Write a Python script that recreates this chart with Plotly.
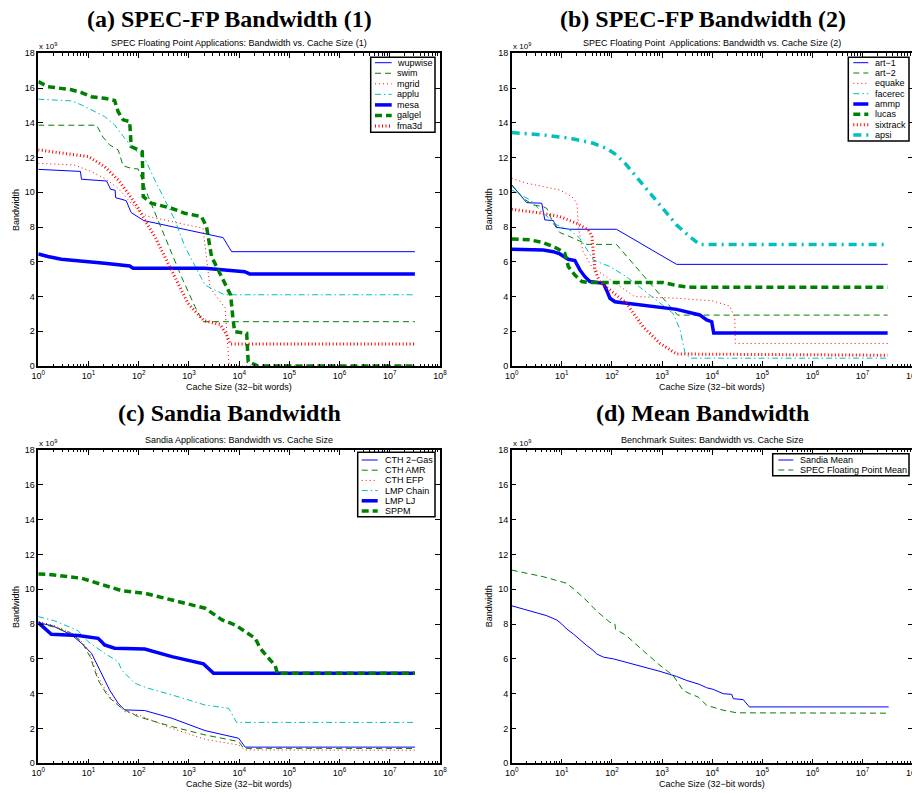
import plotly.graph_objects as go

# ---------------- DATA (x read as log10 of cache size in 32-bit words, y in 1e9) ----------------
# Panel (a) SPEC-FP (1)
A_NAMES = ["wupwise", "swim", "mgrid", "applu", "mesa", "galgel", "fma3d"]
WUPWISE_LX = [0, 0.84, 0.86, 1.36, 1.44, 1.53, 1.54, 1.75, 1.85, 2.1, 3.68, 3.85, 7.5]
WUPWISE_Y = [11.32, 11.2, 10.75, 10.65, 10.17, 10.12, 9.69, 9.52, 8.83, 8.37, 7.39, 6.58, 6.58]
SWIM_LX = [0, 1.16, 1.29, 1.42, 1.59, 1.69, 1.85, 1.99, 2.19, 2.52, 2.85, 3.12, 3.28, 7.5]
SWIM_Y = [13.86, 13.86, 13.17, 12.73, 12.44, 11.52, 11.38, 11.34, 9.75, 7.45, 5.14, 3.42, 2.55, 2.55]
MGRID_LX = [0, 0.72, 1.06, 1.32, 1.59, 1.85, 2.05, 2.2, 3.28, 3.42, 3.72, 3.8, 7.5]
MGRID_Y = [11.67, 11.57, 11.19, 10.8, 10.23, 9.37, 8.79, 8.6, 7.93, 4.5, 3.35, 0, 0]
APPLU_LX = [0, 0.66, 0.86, 1.12, 1.32, 1.52, 1.72, 1.92, 2.12, 2.32, 2.52, 2.72, 2.92, 3.12, 3.32, 3.51, 3.71, 7.5]
APPLU_Y = [15.36, 15.26, 15.03, 14.64, 14.36, 13.88, 13.11, 12.44, 11.96, 10.71, 9.56, 8.41, 6.87, 5.72, 4.66, 4.38, 4.1, 4.1]
MESA_LX = [0, 0.19, 0.46, 0.86, 1.32, 1.82, 1.89, 3.32, 3.71, 4.11, 4.21, 7.5]
MESA_Y = [6.45, 6.3, 6.14, 6.01, 5.91, 5.76, 5.62, 5.62, 5.53, 5.43, 5.3, 5.3]
GALGEL_LX = [0, 0.19, 0.66, 0.86, 1.06, 1.32, 1.52, 1.59, 1.69, 1.82, 1.85, 1.99, 2.07, 2.09, 2.25, 2.65,
             2.92, 3.25, 3.35, 3.45, 3.71, 3.83, 3.88, 3.91, 4.15, 4.18, 4.38, 7.5]
GALGEL_Y = [16.37, 16.08, 15.9, 15.74, 15.5, 15.41, 15.28, 14.64, 14.17, 14.07, 12.63, 12.44, 12.34, 9.75,
            9.37, 9.08, 8.79, 8.6, 8.02, 6.3, 4.76, 4.09, 2.65, 1.98, 1.88, 0.25, 0, 0]
FMA3D_LX = [0, 1.0, 1.32, 1.59, 1.79, 1.99, 2.12, 2.32, 2.65, 2.98, 3.3, 3.62, 3.75, 3.82, 7.5]
FMA3D_Y = [12.44, 12.05, 11.48, 10.71, 9.94, 9.08, 8.41, 7.45, 5.53, 3.61, 2.6, 2.4, 1.8, 1.27, 1.27]

# Panel (b) SPEC-FP (2)
B_NAMES = ["art\u22121", "art\u22122", "equake", "facerec", "ammp", "lucas", "sixtrack", "apsi"]
ART1_LX = [0, 0.3, 0.6, 0.66, 0.83, 0.9, 1.16, 2.09, 3.29, 7.5]
ART1_Y = [10.42, 9.4, 9.37, 8.41, 8.37, 7.98, 7.87, 7.87, 5.85, 5.85]
ART2_LX = [0, 0.23, 0.43, 0.63, 0.7, 0.83, 0.96, 1.16, 1.5, 2.09, 3.31, 7.5]
ART2_Y = [10.42, 9.65, 9.27, 9.17, 9.07, 8.21, 7.68, 7.45, 7.0, 7.0, 2.93, 2.93]
EQUAKE_LX = [0, 0.3, 0.63, 0.96, 1.2, 1.3, 1.34, 1.42, 1.6, 2.0, 2.45, 3.3, 4.0, 4.35, 4.45, 4.46, 7.5]
EQUAKE_Y = [10.8, 10.52, 10.33, 10.13, 9.75, 9.37, 7.8, 6.6, 5.7, 4.9, 4.0, 3.9, 3.75, 3.45, 2.8, 1.3, 1.3]
FACEREC_LX = [0, 0.37, 0.56, 0.9, 1.16, 1.36, 1.63, 1.96, 2.29, 2.62, 2.96, 3.22, 3.36, 3.46, 3.56, 7.5]
FACEREC_Y = [10.13, 9.56, 8.98, 8.12, 7.83, 7.35, 6.1, 5.72, 5.14, 4.38, 3.61, 3.03, 2.07, 0.73, 0.45, 0.45]
AMMP_LX = [0, 0.63, 0.83, 0.96, 1.13, 1.26, 1.36, 1.46, 1.56, 1.83, 1.89, 1.96, 2.06, 2.62, 3.29, 3.75,
           3.89, 3.99, 4.03, 7.5]
AMMP_Y = [6.72, 6.68, 6.58, 6.45, 6.14, 6.07, 5.53, 5.14, 4.86, 4.76, 4.38, 3.9, 3.7, 3.51, 3.26, 2.94,
          2.65, 2.55, 1.9, 1.9]
LUCAS_LX = [0, 0.37, 0.63, 0.9, 1.06, 1.13, 1.26, 1.4, 1.56, 3.02, 3.36, 3.59, 7.5]
LUCAS_Y = [7.31, 7.26, 7.1, 6.78, 6.49, 5.72, 5.24, 4.86, 4.8, 4.8, 4.6, 4.53, 4.53]
SIXTRACK_LX = [0, 0.63, 0.96, 1.3, 1.53, 1.6, 1.66, 1.76, 1.96, 2.29, 2.62, 2.96, 3.29, 7.5]
SIXTRACK_Y = [9.02, 8.79, 8.6, 8.21, 7.83, 7.45, 5.53, 4.8, 4.38, 3.61, 2.26, 1.3, 0.69, 0.62]
APSI_LX = [0, 0.63, 1.16, 1.63, 1.89, 2.09, 2.29, 2.62, 2.96, 3.29, 3.55, 3.75, 7.5]
APSI_Y = [13.44, 13.3, 13.11, 12.82, 12.53, 12.15, 11.57, 10.42, 9.27, 8.12, 7.45, 7.0, 7.0]

# Panel (c) Sandia
C_NAMES = ["CTH 2\u2212Gas", "CTH AMR", "CTH EFP", "LMP Chain", "LMP LJ", "SPPM"]
CTH2GAS_LX = [0, 0.29, 0.66, 0.86, 1.06, 1.26, 1.42, 1.59, 1.72, 2.12, 2.66, 3.32, 3.99, 4.12, 7.5]
CTH2GAS_Y = [8.08, 7.89, 7.38, 6.9, 6.32, 5.17, 4.21, 3.45, 3.07, 3.03, 2.59, 1.88, 1.44, 0.93, 0.93]
CTHAMR_LX = [0, 0.33, 0.66, 0.86, 1.03, 1.19, 1.39, 1.66, 1.99, 2.66, 3.32, 3.99, 4.09, 7.5]
CTHAMR_Y = [8.05, 7.82, 7.47, 6.99, 6.13, 4.79, 3.83, 3.16, 2.68, 2.11, 1.63, 1.25, 0.86, 0.85]
CTHEFP_LX = [0, 0.33, 0.66, 0.86, 1.0, 1.19, 1.4, 1.72, 1.99, 2.66, 3.32, 3.99, 4.12, 7.5]
CTHEFP_Y = [8.15, 7.9, 7.5, 7.0, 6.5, 4.97, 3.9, 2.97, 2.78, 2.01, 1.38, 1.05, 0.77, 0.75]
LMPCHAIN_LX = [0, 0.33, 0.79, 0.99, 1.32, 1.59, 1.66, 1.92, 2.19, 2.66, 3.32, 3.79, 3.95, 7.5]
LMPCHAIN_Y = [8.43, 8.18, 7.62, 6.99, 6.32, 5.84, 5.36, 4.6, 4.31, 3.93, 3.35, 3.16, 2.35, 2.35]
LMPLJ_LX = [0, 0.26, 0.79, 1.19, 1.26, 1.32, 1.52, 2.12, 2.66, 3.29, 3.49, 7.5]
LMPLJ_Y = [8.08, 7.41, 7.34, 7.18, 6.99, 6.8, 6.61, 6.57, 6.13, 5.71, 5.17, 5.17]
SPPM_LX = [0, 0.2, 0.86, 1.32, 1.66, 2.12, 2.66, 3.32, 3.66, 3.92, 4.12, 4.32, 4.42, 4.6, 4.72, 4.76, 7.5]
SPPM_Y = [10.88, 10.86, 10.63, 10.25, 9.92, 9.77, 9.39, 8.91, 8.24, 7.95, 7.57, 7.18, 6.6, 6.0, 5.6, 5.17, 5.17]

# Panel (d) Means
D_NAMES = ["Sandia Mean", "SPEC Floating Point Mean"]
SANDIA_MEAN_LX = [0, 0.5, 0.7, 0.9, 1.0, 1.1, 1.23, 1.5, 1.63, 1.69, 1.83, 2.03, 2.29, 2.96, 3.29, 3.49,
                  3.75, 3.89, 4.02, 4.22, 4.39, 4.42, 4.62, 4.68, 4.74, 7.52]
SANDIA_MEAN_Y = [9.05, 8.67, 8.48, 8.23, 8.0, 7.71, 7.43, 6.76, 6.48, 6.29, 6.1, 6.0, 5.81, 5.28, 4.99, 4.76,
                 4.53, 4.34, 4.25, 4.0, 3.96, 3.71, 3.66, 3.43, 3.24, 3.24]
SPEC_MEAN_LX = [0, 0.63, 1.1, 1.26, 1.5, 1.69, 1.96, 2.06, 2.07, 2.29, 2.62, 2.96, 3.22, 3.42, 3.55, 3.72,
                3.89, 4.09, 4.22, 4.49, 7.5]
SPEC_MEAN_Y = [11.1, 10.72, 10.34, 9.96, 9.33, 8.76, 8.1, 8.0, 7.71, 7.33, 6.48, 5.62, 5.05, 4.19, 4.0, 3.81,
               3.33, 3.14, 3.05, 2.9, 2.88]

Y_TICKS = [0, 2, 4, 6, 8, 10, 12, 14, 16, 18]
X_EXPONENTS = [0, 1, 2, 3, 4, 5, 6, 7, 8]

TITLES = ["(a) SPEC-FP Bandwidth (1)", "(b) SPEC-FP Bandwidth (2)",
          "(c) Sandia Bandwidth", "(d) Mean Bandwidth"]
SUBTITLES = ["SPEC Floating Point Applications: Bandwidth vs. Cache Size (1)",
             "SPEC Floating Point  Applications: Bandwidth vs. Cache Size (2)",
             "Sandia Applications: Bandwidth vs. Cache Size",
             "Benchmark Suites: Bandwidth vs. Cache Size"]

# ---------------- STYLES ----------------
PAGE_W, PAGE_H = 920, 793
OFF = 8  # default body margin of the html page
W, H = PAGE_W - OFF, PAGE_H - OFF
BLUE, GREEN, RED, CYAN = "#0000ff", "#008000", "#ff0000", "#00bfbf"
ST = {
    "b-": dict(color=BLUE, width=1, dash="solid"),
    "g--": dict(color=GREEN, width=1, dash="6px,4px"),
    "r:": dict(color=RED, width=1, dash="1px,3px"),
    "c-.": dict(color=CYAN, width=1, dash="6px,3px,1.5px,3px"),
    "B-": dict(color=BLUE, width=3.5, dash="solid"),
    "G--": dict(color=GREEN, width=3.5, dash="7px,4px"),
    "R:": dict(color=RED, width=3, dash="1px,2.5px"),
    "C-.": dict(color=CYAN, width=3.5, dash="8px,5px,2px,5px"),
}

panels = [
    dict(series=[(WUPWISE_LX, WUPWISE_Y, "b-"), (SWIM_LX, SWIM_Y, "g--"), (MGRID_LX, MGRID_Y, "r:"),
                 (APPLU_LX, APPLU_Y, "c-."), (MESA_LX, MESA_Y, "B-"), (GALGEL_LX, GALGEL_Y, "G--"),
                 (FMA3D_LX, FMA3D_Y, "R:")],
         names=A_NAMES, px=(38.3, 440), py=(53.3, 366), title_x=229, title_y=19,
         leg=dict(box=(370.7, 57.3, 435, 132.3), row0=62.7, step=10.55, l0=375, l1=391.7, tx=395)),
    dict(series=[(ART1_LX, ART1_Y, "b-"), (ART2_LX, ART2_Y, "g--"), (EQUAKE_LX, EQUAKE_Y, "r:"),
                 (FACEREC_LX, FACEREC_Y, "c-."), (AMMP_LX, AMMP_Y, "B-"), (LUCAS_LX, LUCAS_Y, "G--"),
                 (SIXTRACK_LX, SIXTRACK_Y, "R:"), (APSI_LX, APSI_Y, "C-.")],
         names=B_NAMES, px=(511.7, 912.7), py=(53.3, 366), title_x=702.5, title_y=19,
         leg=dict(box=(848.3, 57.3, 909, 141), row0=62.7, step=10.33, l0=853.3, l1=868.3, tx=873.3)),
    dict(series=[(CTH2GAS_LX, CTH2GAS_Y, "b-"), (CTHAMR_LX, CTHAMR_Y, "g--"), (CTHEFP_LX, CTHEFP_Y, "r:"),
                 (LMPCHAIN_LX, LMPCHAIN_Y, "c-."), (LMPLJ_LX, LMPLJ_Y, "B-"), (SPPM_LX, SPPM_Y, "G--")],
         names=C_NAMES, px=(38.3, 440), py=(450, 763.3), title_x=229, title_y=413,
         leg=dict(box=(357.7, 452.3, 435, 516.7), row0=460, step=10.2, l0=361.7, l1=377.7, tx=382.7)),
    dict(series=[(SANDIA_MEAN_LX, SANDIA_MEAN_Y, "b-"), (SPEC_MEAN_LX, SPEC_MEAN_Y, "g--")],
         names=D_NAMES, px=(511.7, 912.7), py=(450, 763.3), title_x=702.5, title_y=413,
         leg=dict(box=(772.7, 453.7, 909, 475.7), row0=460, step=10, l0=778.3, l1=793.3, tx=798.3)),
]


def fx(p):
    return (p - OFF) / W


def fy(p):
    return 1 - (p - OFF) / H


SANS = "Liberation Sans, Arial, Helvetica, sans-serif"
SERIF = "Liberation Serif, Times New Roman, serif"

fig = go.Figure()
shapes, annos = [], []
layout = {}

for i, pn in enumerate(panels, start=1):
    xa = "x" if i == 1 else f"x{i}"
    ya = "y" if i == 1 else f"y{i}"
    for lx, yv, st in pn["series"]:
        fig.add_trace(go.Scatter(x=[10 ** v for v in lx], y=yv, mode="lines",
                                 line=ST[st], xaxis=xa, yaxis=ya, showlegend=False,
                                 hoverinfo="skip"))
    layout[f"xaxis{'' if i == 1 else i}"] = dict(
        type="log", range=[0, 8], domain=[fx(pn["px"][0]), min(1.0, fx(pn["px"][1]))],
        anchor=ya, showgrid=False, zeroline=False, automargin=False,
        showline=True, linecolor="black", linewidth=1.5, mirror="ticks",
        ticks="inside", ticklen=5, tickwidth=1, tickcolor="black",
        tickmode="array", tickvals=[10 ** k for k in X_EXPONENTS],
        ticktext=[f"10<sup>{k}</sup>" for k in X_EXPONENTS],
        tickfont=dict(family=SANS, size=9, color="black"),
        minor=dict(ticks="inside", ticklen=2.5, tickwidth=1, tickcolor="black", dtick="D1", showgrid=False),
        fixedrange=True,
    )
    layout[f"yaxis{'' if i == 1 else i}"] = dict(
        range=[0, 18], domain=[fy(pn["py"][1]), fy(pn["py"][0])], anchor=xa,
        showgrid=False, zeroline=False, automargin=False,
        showline=True, linecolor="black", linewidth=1.5, mirror="ticks",
        ticks="inside", ticklen=5, tickwidth=1, tickcolor="black",
        tickmode="array", tickvals=Y_TICKS, ticktext=[str(t) for t in Y_TICKS],
        tickfont=dict(family=SANS, size=9, color="black"),
        fixedrange=True,
    )
    # x-axis label
    annos.append(dict(text="Cache Size (32\u2212bit words)", x=fx((pn["px"][0] + pn["px"][1]) / 2),
                      y=fy(pn["py"][1] + 21), xref="paper", yref="paper", showarrow=False,
                      font=dict(family=SANS, size=9, color="black"), xanchor="center", yanchor="middle"))
    # y-axis label
    annos.append(dict(text="Bandwidth", x=fx(pn["px"][0] - 23), y=fy((pn["py"][0] + pn["py"][1]) / 2),
                      xref="paper", yref="paper", textangle=-90, showarrow=False,
                      font=dict(family=SANS, size=9, color="black"), xanchor="center", yanchor="middle"))
    # exponent note
    annos.append(dict(text="x 10<sup>9</sup>", x=fx(pn["px"][0] - 1), y=fy(pn["py"][0] - 7),
                      xref="paper", yref="paper", showarrow=False, xanchor="left", yanchor="middle",
                      font=dict(family=SANS, size=8, color="black")))
    # subtitle
    annos.append(dict(text=SUBTITLES[i - 1], x=fx((pn["px"][0] + pn["px"][1]) / 2), y=fy(pn["py"][0] - 10),
                      xref="paper", yref="paper", showarrow=False, xanchor="center", yanchor="middle",
                      font=dict(family=SANS, size=9, color="black")))
    # bold panel title
    annos.append(dict(text=f"<b>{TITLES[i - 1]}</b>", x=fx(pn["title_x"]), y=fy(pn["title_y"]),
                      xref="paper", yref="paper", showarrow=False, xanchor="center", yanchor="middle",
                      font=dict(family=SERIF, size=24, color="black")))
    # legend box
    lg = pn["leg"]
    x0, y0, x1, y1 = lg["box"]
    shapes.append(dict(type="rect", xref="paper", yref="paper", x0=fx(x0), x1=fx(x1), y0=fy(y1), y1=fy(y0),
                       line=dict(color="black", width=1.5), fillcolor="white", layer="above"))
    for k, ((_, _, st), name) in enumerate(zip(pn["series"], pn["names"])):
        yy = lg["row0"] + k * lg["step"]
        shapes.append(dict(type="line", xref="paper", yref="paper", x0=fx(lg["l0"]), x1=fx(lg["l1"]),
                           y0=fy(yy), y1=fy(yy), line=ST[st], layer="above"))
        annos.append(dict(text=name, x=fx(lg["tx"]), y=fy(yy), xref="paper", yref="paper", showarrow=False,
                          xanchor="left", yanchor="middle", font=dict(family=SANS, size=9, color="black")))

fig.update_layout(
    width=W, height=H, autosize=False,
    margin=dict(l=0, r=0, t=0, b=0, pad=0),
    paper_bgcolor="white", plot_bgcolor="white",
    showlegend=False, shapes=shapes, annotations=annos,
    **layout,
)

fig.write_html("out.html")
